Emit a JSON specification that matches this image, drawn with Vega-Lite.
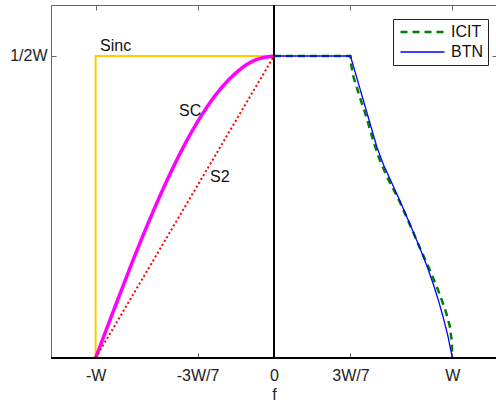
{
  "$schema": "https://vega.github.io/schema/vega-lite/v6.json",
  "autosize": {"type": "none"},
  "padding": {"left": 51, "top": 5, "right": 0, "bottom": 47},
  "width": 446,
  "height": 353,
  "background": "white",
  "config": {
    "font": "Liberation Sans",
    "view": {"stroke": "#666", "strokeWidth": 1},
    "axis": {
      "domain": false,
      "grid": false,
      "tickColor": "#666",
      "tickSize": -5,
      "tickWidth": 1,
      "labelFont": "Liberation Sans",
      "labelFontSize": 16,
      "labelColor": "#222",
      "labelOverlap": false,
      "labelFlush": false,
      "titleFont": "Liberation Sans",
      "titleFontSize": 16,
      "titleFontWeight": "normal",
      "titleColor": "#222"
    },
    "legend": {
      "orient": "none",
      "legendX": 342,
      "legendY": 14,
      "padding": 5,
      "strokeColor": "#222",
      "fillColor": "white",
      "symbolType": "M-1,0H7",
      "symbolSize": 121,
      "labelFont": "Liberation Sans",
      "labelFontSize": 16,
      "labelColor": "#111",
      "labelOffset": 37,
      "rowPadding": 4,
      "title": null
    }
  },
  "datasets": {
    "sinc": [
      {"i": 0, "f": -1, "v": 0},
      {"i": 1, "f": -1, "v": 0.5},
      {"i": 2, "f": 0, "v": 0.5}
    ],
    "sc": [
      {"f": -1.0, "v": 0.0},
      {"f": -0.95, "v": 0.0392},
      {"f": -0.9, "v": 0.0782},
      {"f": -0.8, "v": 0.1545},
      {"f": -0.7, "v": 0.2270},
      {"f": -0.6, "v": 0.2939},
      {"f": -0.5, "v": 0.3536},
      {"f": -0.4, "v": 0.4045},
      {"f": -0.3, "v": 0.4455},
      {"f": -0.2, "v": 0.4755},
      {"f": -0.1, "v": 0.4938},
      {"f": 0.0, "v": 0.5}
    ],
    "s2": [
      {"f": -1, "v": 0},
      {"f": 0, "v": 0.5}
    ],
    "curves": [
      {"s": "ICIT", "f": 0.0, "v": 0.5},
      {"s": "ICIT", "f": 0.4286, "v": 0.5},
      {"s": "ICIT", "f": 0.433, "v": 0.485},
      {"s": "ICIT", "f": 0.445, "v": 0.466},
      {"s": "ICIT", "f": 0.462, "v": 0.450},
      {"s": "ICIT", "f": 0.482, "v": 0.431},
      {"s": "ICIT", "f": 0.519, "v": 0.398},
      {"s": "ICIT", "f": 0.556, "v": 0.360},
      {"s": "ICIT", "f": 0.590, "v": 0.330},
      {"s": "ICIT", "f": 0.630, "v": 0.302},
      {"s": "ICIT", "f": 0.670, "v": 0.279},
      {"s": "ICIT", "f": 0.706, "v": 0.258},
      {"s": "ICIT", "f": 0.760, "v": 0.222},
      {"s": "ICIT", "f": 0.818, "v": 0.182},
      {"s": "ICIT", "f": 0.870, "v": 0.148},
      {"s": "ICIT", "f": 0.930, "v": 0.105},
      {"s": "ICIT", "f": 0.966, "v": 0.074},
      {"s": "ICIT", "f": 0.986, "v": 0.052},
      {"s": "ICIT", "f": 0.996, "v": 0.028},
      {"s": "ICIT", "f": 1.0, "v": 0.0},
      {"s": "BTN", "f": 0.0, "v": 0.5},
      {"s": "BTN", "f": 0.4286, "v": 0.5},
      {"s": "BTN", "f": 0.577, "v": 0.349},
      {"s": "BTN", "f": 0.615, "v": 0.319},
      {"s": "BTN", "f": 0.660, "v": 0.290},
      {"s": "BTN", "f": 0.706, "v": 0.260},
      {"s": "BTN", "f": 0.760, "v": 0.223},
      {"s": "BTN", "f": 0.818, "v": 0.182},
      {"s": "BTN", "f": 0.860, "v": 0.150},
      {"s": "BTN", "f": 0.892, "v": 0.123},
      {"s": "BTN", "f": 0.922, "v": 0.095},
      {"s": "BTN", "f": 0.948, "v": 0.068},
      {"s": "BTN", "f": 0.975, "v": 0.036},
      {"s": "BTN", "f": 1.0, "v": 0.0}
    ],
    "zero": [{"z": 0}],
    "labels": [
      {"t": "Sinc", "f": -0.975, "v": 0.516},
      {"t": "SC", "f": -0.532, "v": 0.409},
      {"t": "S2", "f": -0.359, "v": 0.299}
    ]
  },
  "layer": [
    {
      "data": {"name": "sinc"},
      "mark": {"type": "line", "color": "#FFCC00", "strokeWidth": 2},
      "encoding": {
        "x": {
          "field": "f", "type": "quantitative",
          "scale": {"domain": [-1.25, 1.25], "nice": false, "zero": false},
          "axis": {
            "orient": "bottom",
            "values": [-1, -0.428571, 0, 0.428571, 1],
            "labelExpr": "datum.value < -0.9 ? '-W' : datum.value < -0.1 ? '-3W/7' : datum.value < 0.1 ? '0' : datum.value < 0.9 ? '3W/7' : 'W'",
            "labelPadding": 14,
            "title": "f",
            "titlePadding": 3
          }
        },
        "y": {
          "field": "v", "type": "quantitative",
          "scale": {"domain": [0, 0.5844], "nice": false, "zero": false},
          "axis": {
            "orient": "left",
            "values": [0.5],
            "labelExpr": "'1/2W'",
            "labelPadding": 9,
            "title": null
          }
        },
        "order": {"field": "i"}
      }
    },
    {
      "data": {"name": "sc"},
      "mark": {"type": "line", "color": "#FF00FF", "strokeWidth": 3.5, "interpolate": "monotone"},
      "encoding": {
        "x": {"field": "f", "type": "quantitative", "axis": null},
        "y": {"field": "v", "type": "quantitative", "axis": null}
      }
    },
    {
      "data": {"name": "s2"},
      "mark": {"type": "line", "color": "#FF0000", "strokeWidth": 2, "strokeDash": [2, 2.5]},
      "encoding": {
        "x": {"field": "f", "type": "quantitative", "axis": null},
        "y": {"field": "v", "type": "quantitative", "axis": null}
      }
    },
    {
      "data": {"name": "curves"},
      "mark": {"type": "line", "interpolate": "linear"},
      "encoding": {
        "x": {"field": "f", "type": "quantitative", "axis": null},
        "y": {"field": "v", "type": "quantitative", "axis": null},
        "color": {
          "field": "s", "type": "nominal",
          "scale": {"domain": ["ICIT", "BTN"], "range": ["#008000", "#0000FF"]},
          "legend": {"title": null}
        },
        "strokeDash": {
          "field": "s", "type": "nominal",
          "scale": {"domain": ["ICIT", "BTN"], "range": [[7, 5], [1, 0]]},
          "legend": {"title": null}
        },
        "strokeWidth": {
          "field": "s", "type": "nominal",
          "scale": {"domain": ["ICIT", "BTN"], "range": [2.5, 1.3]},
          "legend": {"title": null}
        }
      }
    },
    {
      "data": {"name": "zero"},
      "mark": {"type": "rule", "color": "#000", "strokeWidth": 2},
      "encoding": {
        "x": {
          "field": "z", "type": "quantitative",
          "axis": {
            "orient": "top",
            "values": [-1, -0.428571, 0.428571, 1],
            "labels": false,
            "title": null
          }
        }
      }
    },
    {
      "data": {"name": "zero"},
      "mark": {"type": "rule", "color": "#000", "strokeWidth": 2},
      "encoding": {
        "y": {
          "field": "z", "type": "quantitative",
          "axis": {
            "orient": "right",
            "values": [0.5],
            "labels": false,
            "title": null
          }
        }
      }
    },
    {
      "data": {"name": "labels"},
      "mark": {"type": "text", "align": "left", "baseline": "middle", "fontSize": 16, "font": "Liberation Sans", "color": "#111"},
      "encoding": {
        "x": {"field": "f", "type": "quantitative", "axis": null},
        "y": {"field": "v", "type": "quantitative", "axis": null},
        "text": {"field": "t"}
      }
    }
  ]
}
